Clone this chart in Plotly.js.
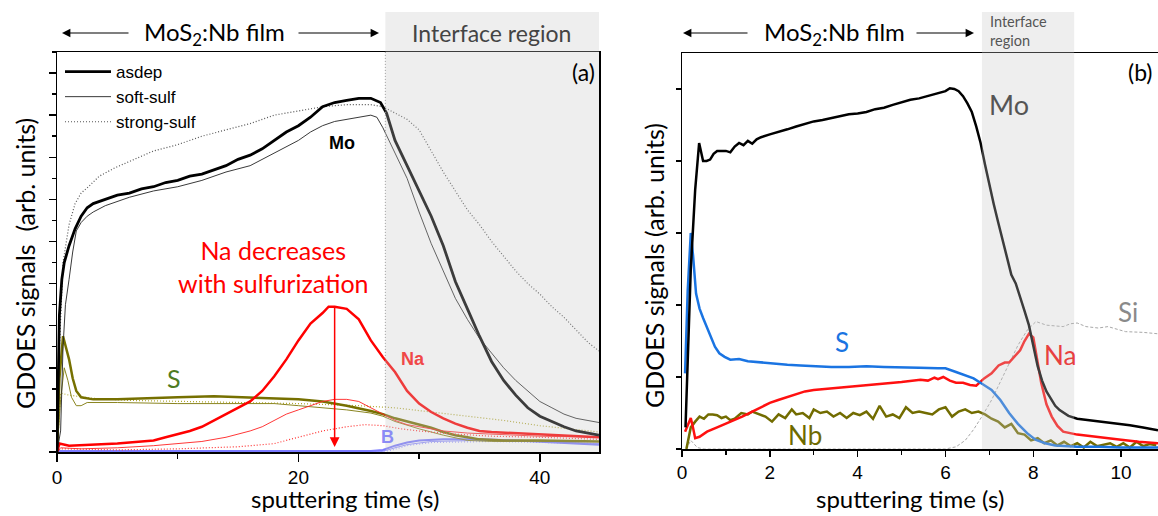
<!DOCTYPE html>
<html><head><meta charset="utf-8">
<script src="https://cdn.plot.ly/plotly-3.0.1.min.js"></script>
<style>html,body{margin:0;padding:0;background:#fff}#chart{width:1158px;height:516px}</style>
</head><body><div id="chart"></div>
<script>
// ---------- Panel (a): GDOES depth profiles, three samples ----------
const a_mo_asdep_t = [0,0.1,0.2,0.4,0.6,1.0,1.5,2.0,2.5,3,4,5,6,7,8,9,10,11,12,13,14,15,16,17,18,19,20,21,22,23,24,25,26,26.8,27.3,28,29,30,31,32,33,34,35,36,37,38,39,40,41,42,43,44,44.9];
const a_mo_asdep   = [0,3,6.5,8.2,9.0,9.8,10.6,11.2,11.6,11.8,12.0,12.2,12.3,12.5,12.6,12.8,12.9,13.1,13.2,13.4,13.6,13.9,14.1,14.4,14.8,15.2,15.5,15.9,16.4,16.6,16.7,16.8,16.8,16.6,16.1,14.8,13.6,12.4,11.2,9.8,8.1,6.8,5.5,4.3,3.4,2.7,2.1,1.7,1.45,1.2,1.0,0.9,0.8];
const a_mo_soft_t  = [0,0.3,0.5,0.7,1.0,1.3,1.6,2,2.5,3,4,5,6,8,10,12,14,16,17,18,19,20,21,22,23,24,25,26,26.5,27,28,29,30,31,32,33,34,35,36,37,38,39,40,41,42,43,44,44.9];
const a_mo_soft    = [0,1,5,7,8.2,9.5,10.5,10.9,11.2,11.4,11.7,11.9,12.1,12.4,12.6,12.9,13.3,13.6,13.9,14.2,14.5,14.8,15.2,15.5,15.7,15.8,15.9,16.0,15.9,15.4,14.2,13.0,11.4,9.9,8.6,7.3,6.3,5.4,4.7,4.0,3.4,2.9,2.4,2.1,1.8,1.6,1.5,1.4];
const a_mo_strong_t= [0,0.2,0.5,1.0,1.5,2,2.6,3.5,4.8,6,8,10,12,14,16,18,20,22,24,26,27,28,29,30,31,32,33,34,35,36,37,38,39,40,41,42,43,44,44.9];
const a_mo_strong  = [0,5,9,10.8,11.8,12.3,12.6,13.1,13.5,13.8,14.3,14.6,15.0,15.3,15.6,16.0,16.2,16.4,16.5,16.5,16.4,16.1,15.8,15.3,14.3,13.3,12.4,11.5,10.8,10.0,9.3,8.6,8.0,7.5,6.9,6.4,5.8,5.2,4.8];

const a_na_asdep_t = [0,0.2,1,3,5,7,8,9,10,11,12,13,14,15,16,17,18,19,20,21,22,22.5,23,24,25,26,27,28,29,30,31,32,33,34,35,36,38,40,42,44.9];
const a_na_asdep   = [0,0.4,0.3,0.35,0.4,0.5,0.55,0.7,0.85,1.0,1.2,1.5,1.8,2.1,2.4,2.9,3.6,4.4,5.3,6.1,6.6,6.9,6.9,6.8,6.3,5.3,4.5,3.8,2.9,2.3,1.9,1.6,1.35,1.15,1.0,0.95,0.9,0.85,0.8,0.7];
const a_na_soft_t  = [0,0.3,2,5,8,10,12,14,16,17,18,19,20,21,22,23,24,25,26,27,28,29,30,32,34,36,40,44.9];
const a_na_soft    = [0,0.2,0.15,0.2,0.3,0.4,0.5,0.7,1.0,1.2,1.5,1.8,2.0,2.2,2.4,2.5,2.5,2.4,2.1,1.8,1.5,1.3,1.2,1.0,0.9,0.85,0.75,0.7];
const a_na_strong_t= [0,0.3,5,10,15,18,20,22,24,25.5,27,28.5,30,33,36,40,44.9];
const a_na_strong  = [0,0.15,0.1,0.15,0.25,0.4,0.7,1.0,1.2,1.3,1.25,1.1,1.0,0.85,0.75,0.7,0.6];

const a_s_asdep_t  = [0,0.2,0.5,0.8,1.0,1.3,1.6,2,3,5,7,10,13,16,18,20,22,24,26,27,28,29,30,31,32,33,34,35,37,40,44.9];
const a_s_asdep    = [0,3.5,5.5,4.9,4.4,3.5,2.9,2.6,2.5,2.5,2.55,2.6,2.65,2.6,2.55,2.5,2.4,2.2,1.95,1.8,1.6,1.45,1.3,1.15,0.95,0.8,0.7,0.6,0.55,0.55,0.5];
const a_s_soft_t   = [0,0.3,0.6,0.9,1.2,1.6,2,2.5,5,10,15,18,20,22,24,26,27,28,30,32,34,36,40,44.9];
const a_s_soft     = [0,2.5,4.0,3.4,2.6,2.2,2.2,2.35,2.35,2.3,2.3,2.3,2.2,2.1,2.0,1.85,1.7,1.45,1.1,0.8,0.55,0.5,0.5,0.5];
const a_s_strong_t = [0,0.3,1,3,6,10,15,20,25,28,31,34,37,40,43,44.9];
const a_s_strong   = [0,2.8,2.7,2.55,2.45,2.4,2.35,2.3,2.2,2.1,1.9,1.7,1.5,1.25,1.05,0.95];

const a_b_asdep_t  = [0,26,27,28,29,30,32,35,38,41,44.9];
const a_b_asdep    = [0.05,0.05,0.1,0.3,0.45,0.55,0.6,0.6,0.55,0.45,0.35];
const a_b_soft_t   = [0,27,28,29,31,35,40,44.9];
const a_b_soft     = [0.03,0.03,0.2,0.35,0.5,0.55,0.5,0.4];
const a_b_strong_t = [0,27.5,29,31,36,44.9];
const a_b_strong   = [0.02,0.05,0.3,0.45,0.5,0.4];

// ---------- Panel (b): GDOES depth profile ----------
const b_mo_t = [0.08,0.2,0.3,0.39,0.48,0.56,0.64,0.72,0.8,0.9,1.0,1.1,1.2,1.3,1.4,1.5,1.6,1.7,1.8,2.0,2.2,2.4,2.6,2.8,3.0,3.2,3.4,3.6,3.8,4.0,4.2,4.4,4.6,4.8,5.0,5.2,5.4,5.6,5.8,6.0,6.1,6.2,6.3,6.4,6.5,6.6,6.7,6.8,6.9,7.0,7.1,7.2,7.3,7.4,7.5,7.6,7.7,7.8,7.9,8.0,8.1,8.2,8.3,8.4,8.5,8.6,8.8,9.0,9.3,9.6,9.9,10.2,10.5,10.84];
const b_mo   = [0.3,2.5,3.6,4.25,4.0,4.0,4.02,4.1,4.14,4.14,4.14,4.12,4.2,4.25,4.22,4.28,4.24,4.3,4.33,4.37,4.4,4.44,4.48,4.52,4.55,4.57,4.6,4.62,4.65,4.66,4.68,4.72,4.74,4.78,4.82,4.85,4.87,4.9,4.94,4.97,5.01,5.0,4.97,4.9,4.8,4.68,4.48,4.25,3.95,3.65,3.4,3.15,2.9,2.65,2.42,2.3,2.12,1.92,1.72,1.45,1.15,0.95,0.8,0.7,0.6,0.54,0.46,0.42,0.4,0.38,0.36,0.33,0.3,0.26];
const b_s_t  = [0.07,0.13,0.2,0.25,0.32,0.4,0.48,0.56,0.65,0.75,0.85,0.97,1.1,1.3,1.5,1.8,2.1,2.4,2.7,3.0,3.4,3.8,4.2,4.6,5.0,5.4,5.83,6.0,6.24,6.44,6.64,6.85,7.05,7.25,7.45,7.65,7.86,8.05,8.27,8.5,8.7,9.0,9.5,10,10.84];
const b_s    = [1.05,2.2,3.0,2.7,2.16,1.95,1.82,1.7,1.55,1.42,1.33,1.28,1.24,1.25,1.22,1.2,1.18,1.17,1.16,1.15,1.14,1.14,1.15,1.14,1.13,1.13,1.12,1.12,1.07,1.03,0.98,0.9,0.82,0.68,0.5,0.35,0.22,0.13,0.08,0.05,0.04,0.03,0.03,0.02,0.02];
const b_na_t = [0.07,0.15,0.2,0.25,0.3,0.4,0.57,0.8,1.0,1.2,1.37,1.6,1.8,2.0,2.19,2.4,2.6,2.8,3.0,3.4,3.8,4.2,4.6,5.0,5.43,5.6,5.75,5.83,5.95,6.1,6.24,6.4,6.56,6.7,6.88,7.05,7.21,7.35,7.45,7.6,7.7,7.8,7.9,8.0,8.1,8.18,8.3,8.42,8.55,8.68,9.0,9.48,10.0,10.4,10.84];
const b_na   = [0.24,0.35,0.43,0.3,0.15,0.17,0.24,0.3,0.35,0.4,0.45,0.52,0.58,0.64,0.68,0.72,0.76,0.8,0.82,0.84,0.86,0.88,0.91,0.93,0.96,0.95,0.99,0.97,1.0,0.95,0.92,0.92,0.89,0.88,0.98,1.05,1.16,1.2,1.2,1.3,1.37,1.5,1.6,1.55,1.2,0.92,0.62,0.45,0.32,0.24,0.2,0.17,0.13,0.1,0.08];
const b_nb_t = [0.1,0.2,0.3,0.4,0.5,0.6,0.7,0.8,0.9,1.0,1.1,1.2,1.35,1.5,1.6,1.75,1.9,2.05,2.2,2.35,2.5,2.6,2.75,2.9,3.0,3.15,3.3,3.45,3.6,3.75,3.9,4.05,4.2,4.35,4.5,4.65,4.8,4.95,5.1,5.25,5.4,5.55,5.7,5.85,6.0,6.15,6.3,6.45,6.6,6.75,6.9,7.05,7.2,7.35,7.5,7.65,7.8,7.95,8.1,8.25,8.4,8.55,8.7,8.85,9.0,9.15,9.3,9.45,9.6,9.75,9.9,10.05,10.2,10.35,10.5,10.65,10.8];
const b_nb   = [0,0.3,0.38,0.45,0.42,0.48,0.48,0.47,0.43,0.45,0.4,0.42,0.5,0.48,0.52,0.48,0.45,0.38,0.48,0.43,0.55,0.48,0.5,0.43,0.55,0.5,0.52,0.45,0.5,0.43,0.5,0.47,0.52,0.42,0.6,0.45,0.48,0.43,0.58,0.5,0.52,0.5,0.48,0.55,0.58,0.45,0.52,0.55,0.5,0.52,0.48,0.42,0.38,0.3,0.35,0.22,0.2,0.12,0.15,0.08,0.12,0.05,0.1,0.04,0.08,0.02,0.1,0.04,0.06,0.08,0.03,0.08,0.02,0.1,0.04,0.07,0.05];
const b_si_t = [0.1,0.2,0.35,0.5,2,4,6.0,6.24,6.45,6.64,6.85,7.05,7.25,7.45,7.65,7.86,8.06,8.3,8.5,8.68,8.85,9.0,9.2,9.48,9.7,10.1,10.5,10.84];
const b_si   = [0,0.12,0.02,0,0,0,0,0.03,0.12,0.27,0.47,0.68,0.93,1.19,1.44,1.65,1.77,1.72,1.71,1.7,1.74,1.75,1.7,1.68,1.7,1.63,1.62,1.6];

// interface regions (sputtering time, s)
const a_interface = [27.2, 44.9];
const b_interface = [6.83, 8.93];
const a_xrange = [0, 44.9], a_yrange = [0, 19];
const b_xrange = [0, 10.84], b_yrange = [0, 5.5];

const W = 1158, H = 516;
const px = x => x / W, py = y => 1 - y / H;
const CAL = 'Lato, "Open Sans", sans-serif';
const ARI = '"Liberation Sans", Arial, sans-serif';
const DOT = '1px,2px';

function ln(x, y, color, width, dash, xa, ya, name, show, rank) {
  return {type:'scatter', mode:'lines', x:x, y:y, xaxis:xa, yaxis:ya, name:name||'',
          showlegend:!!show, legendrank:rank||1000, hoverinfo:'skip',
          line:{color:color, width:width, dash:dash||'solid'}};
}

const traces = [
  ln(a_b_strong_t, a_b_strong, '#a0a0ff', 1.2, DOT, 'x', 'y'),
  ln(a_b_soft_t, a_b_soft, '#9090ff', 1, 'solid', 'x', 'y'),
  ln(a_b_asdep_t, a_b_asdep, '#7b7bff', 2, 'solid', 'x', 'y'),
  ln(a_s_strong_t, a_s_strong, '#b0a830', 1.2, DOT, 'x', 'y'),
  ln(a_s_soft_t, a_s_soft, '#8a8520', 1, 'solid', 'x', 'y'),
  ln(a_s_asdep_t, a_s_asdep, '#767000', 2.5, 'solid', 'x', 'y'),
  ln(a_na_strong_t, a_na_strong, '#ff3030', 1.2, DOT, 'x', 'y'),
  ln(a_na_soft_t, a_na_soft, '#ff2020', 0.9, 'solid', 'x', 'y'),
  ln(a_na_asdep_t, a_na_asdep, '#ff0000', 2.5, 'solid', 'x', 'y'),
  ln(a_mo_strong_t, a_mo_strong, '#555555', 1.2, DOT, 'x', 'y', 'strong-sulf', true, 3),
  ln(a_mo_soft_t, a_mo_soft, '#222222', 0.9, 'solid', 'x', 'y', 'soft-sulf', true, 2),
  ln(a_mo_asdep_t, a_mo_asdep, '#000000', 2.8, 'solid', 'x', 'y', 'asdep', true, 1),

  ln(b_si_t, b_si, '#a8a8a8', 1, '3px,2px', 'x2', 'y2'),
  ln(b_nb_t, b_nb, '#726c00', 2.5, 'solid', 'x2', 'y2'),
  ln(b_na_t, b_na, '#ff1010', 2.5, 'solid', 'x2', 'y2'),
  ln(b_s_t, b_s, '#1a74e2', 2.5, 'solid', 'x2', 'y2'),
  ln(b_mo_t, b_mo, '#000000', 2.5, 'solid', 'x2', 'y2')
];

const axBase = {showline:true, linecolor:'#000', linewidth:1.5, showgrid:false, zeroline:false,
  ticks:'outside', tickcolor:'#000', tickwidth:1.5, automargin:false, fixedrange:true};

const layout = {
  width:W, height:H, margin:{l:0, r:0, t:0, b:0}, paper_bgcolor:'#fff', plot_bgcolor:'rgba(0,0,0,0)',
  showlegend:true,
  legend:{x:px(60), y:py(54), xanchor:'left', yanchor:'top', bgcolor:'rgba(0,0,0,0)',
          font:{family:ARI, size:17, color:'#000'}, tracegroupgap:0, itemwidth:46},
  xaxis:Object.assign({}, axBase, {domain:[px(57), px(599)], range:a_xrange, anchor:'y', mirror:true,
    dtick:20, tick0:0, ticklen:8, tickfont:{family:ARI, size:19, color:'#000'},
    minor:{ticks:'outside', dtick:10, ticklen:5, tickwidth:1.5, tickcolor:'#000'}}),
  yaxis:Object.assign({}, axBase, {domain:[1-452/H, 1-52/H], range:a_yrange, anchor:'x', mirror:true,
    dtick:2, tick0:0, ticklen:7, showticklabels:false,
    minor:{ticks:'outside', dtick:1, ticklen:4, tickwidth:1.5, tickcolor:'#000'}}),
  xaxis2:Object.assign({}, axBase, {domain:[px(682), 1], range:b_xrange, anchor:'y2', mirror:true,
    dtick:2, tick0:0, ticklen:6, tickfont:{family:ARI, size:19, color:'#000'},
    minor:{ticks:'outside', dtick:1, ticklen:4, tickwidth:1.5, tickcolor:'#000'}}),
  yaxis2:Object.assign({}, axBase, {domain:[1-449/H, 1-53/H], range:b_yrange, anchor:'x2', mirror:false,
    dtick:1, tick0:0, ticklen:5, showticklabels:false}),
  shapes:[
    {type:'rect', xref:'x', yref:'paper', x0:a_interface[0], x1:a_interface[1], y0:1-452/H, y1:py(12),
     fillcolor:'rgba(200,200,200,0.3)', line:{width:0}, layer:'above'},
    {type:'rect', xref:'x2', yref:'paper', x0:b_interface[0], x1:b_interface[1], y0:1-449/H, y1:py(12),
     fillcolor:'rgba(200,200,200,0.3)', line:{width:0}, layer:'above'},
    {type:'line', xref:'x', yref:'y', x0:a_interface[0], x1:a_interface[0], y0:2, y1:19,
     line:{color:'#999', width:1, dash:'1px,2px'}, layer:'above'}
  ],
  annotations:[]
};

function txt(t, x, y, size, color, fam, opts) {
  return Object.assign({text:t, x:px(x), y:py(y), xref:'paper', yref:'paper', showarrow:false,
    xanchor:'center', yanchor:'middle', font:{family:fam||CAL, size:size, color:color||'#000'}}, opts||{});
}
function harrow(hx, tx, y) {
  return {text:'', x:px(hx), y:py(y), xref:'paper', yref:'paper', ax:tx-hx, ay:0, axref:'pixel', ayref:'pixel',
    showarrow:true, arrowhead:2, arrowsize:1.4, arrowwidth:1.2, arrowcolor:'#000', standoff:0, startstandoff:0};
}
const A = layout.annotations;
// header (a)
A.push(harrow(62, 130, 33), harrow(379, 297, 33));
A.push(txt('MoS<sub>2</sub>:Nb film', 214, 33, 24, '#000'));
A.push(txt('Interface region', 491, 33, 23, '#444'));
// header (b)
A.push(harrow(683, 749, 33), harrow(974, 915, 33));
A.push(txt('MoS<sub>2</sub>:Nb film', 834, 33, 24, '#000'));
A.push(txt('Interface<br>region', 988, 31, 14.5, '#555', CAL, {xanchor:'left', align:'left'}));
// panel tags
A.push(txt('(a)', 597, 72, 23, '#000', CAL, {xanchor:'right'}));
A.push(txt('(b)', 1155, 72, 23, '#000', CAL, {xanchor:'right'}));
// axis titles
A.push(txt('sputtering time (s)', 345, 515, 24, '#000', CAL, {yanchor:'bottom'}));
A.push(txt('sputtering time (s)', 910, 515, 24, '#000', CAL, {yanchor:'bottom'}));
A.push(txt('GDOES signals  (arb. units)', 25, 264, 25, '#000', CAL, {textangle:-90}));
A.push(txt('GDOES signals (arb. units)', 654, 266, 25, '#000', CAL, {textangle:-90}));
// curve labels (a)
A.push({text:'<b>Mo</b>', x:23.6, y:14.7, xref:'x', yref:'y', showarrow:false, font:{family:ARI, size:18, color:'#000'}});
A.push({text:'S', x:9.7, y:3.5, xref:'x', yref:'y', showarrow:false, font:{family:CAL, size:25, color:'#4e7b22'}});
A.push({text:'<b>Na</b>', x:29.5, y:4.4, xref:'x', yref:'y', showarrow:false, font:{family:ARI, size:18, color:'#f04848'}});
A.push({text:'<b>B</b>', x:27.4, y:0.7, xref:'x', yref:'y', showarrow:false, font:{family:ARI, size:18, color:'#8b8bf5'}});
A.push(txt('Na decreases<br>with sulfurization', 273, 266, 25, '#ff0000'));
A.push({text:'', x:23.0, y:0.24, xref:'x', yref:'y', ax:23.0, ay:6.97, axref:'x', ayref:'y', showarrow:true,
  arrowhead:2, arrowsize:1.3, arrowwidth:1.5, arrowcolor:'#ff0000', standoff:0});
// curve labels (b)
A.push({text:'Mo', x:7.45, y:4.78, xref:'x2', yref:'y2', showarrow:false, font:{family:CAL, size:27, color:'#555'}});
A.push({text:'S', x:3.65, y:1.48, xref:'x2', yref:'y2', showarrow:false, font:{family:CAL, size:26, color:'#1a74e2'}});
A.push({text:'Na', x:8.6, y:1.3, xref:'x2', yref:'y2', showarrow:false, font:{family:CAL, size:26, color:'#e84040'}});
A.push({text:'Nb', x:2.8, y:0.2, xref:'x2', yref:'y2', showarrow:false, font:{family:CAL, size:26, color:'#6e6a00'}});
A.push({text:'Si', x:10.16, y:1.9, xref:'x2', yref:'y2', showarrow:false, font:{family:CAL, size:26, color:'#8a8a8a'}});

Plotly.newPlot('chart', traces, layout, {displayModeBar:false, staticPlot:true});
</script></body></html>
